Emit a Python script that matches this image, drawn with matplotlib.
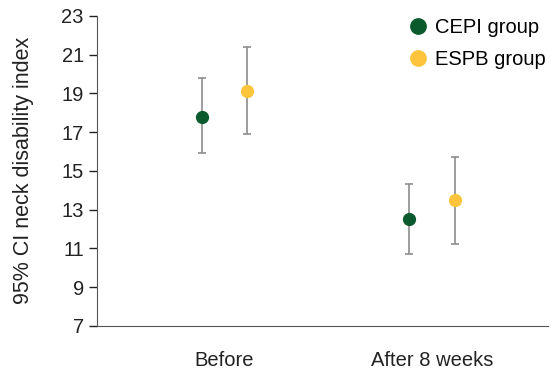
import numpy as np
import matplotlib.pyplot as plt

plt.rcParams['font.family'] = ['Liberation Sans', 'DejaVu Sans']

categories = ['Before', 'After 8 weeks']
groups = ['CEPI group', 'ESPB group']
colors = ['#0b5a2e', '#fdc43c']

means = [[17.8, 12.5], [19.1, 13.5]]
lower = [[15.9, 10.7], [16.9, 11.2]]
upper = [[19.8, 14.3], [21.4, 15.7]]

fig = plt.figure(figsize=(5.54, 3.69), dpi=100)
ax = fig.add_axes([0.175, 0.117, 0.815, 0.84])

x = np.arange(len(categories))
offsets = [-0.11, 0.11]
for i, g in enumerate(groups):
    m = np.array(means[i])
    err = [m - np.array(lower[i]), np.array(upper[i]) - m]
    ax.errorbar(x + offsets[i], m, yerr=err, fmt='none', ecolor='#8c8c8c',
                elinewidth=1.2, capsize=3, capthick=1.2, zorder=2)
    ax.plot(x + offsets[i], m, 'o', color=colors[i], markersize=8.5,
            linestyle='none', label=g, zorder=3)

ax.set_xlim(-0.615, 1.56)
ax.set_ylim(7, 23)
ax.set_yticks(np.arange(7, 24, 2))
ax.set_xticks(x)
ax.set_xticklabels(categories)
ax.tick_params(axis='x', length=0, labelsize=14.5, pad=18, colors='#222222')
ax.tick_params(axis='y', length=6, labelsize=14.5, colors='#222222', width=1)
ax.spines['top'].set_visible(False)
ax.spines['right'].set_visible(False)
ax.spines['left'].set_color('#555555')
ax.spines['bottom'].set_color('#555555')
ax.set_ylabel('95% CI neck disability index', fontsize=15.5, color='#222222', labelpad=20)

ax.legend(loc='upper right', bbox_to_anchor=(1.035, 1.05), frameon=False,
          fontsize=14.5, markerscale=1.3, handletextpad=0.1, labelspacing=0.6,
          handlelength=1.5)

fig.savefig('out.png', dpi=100)
